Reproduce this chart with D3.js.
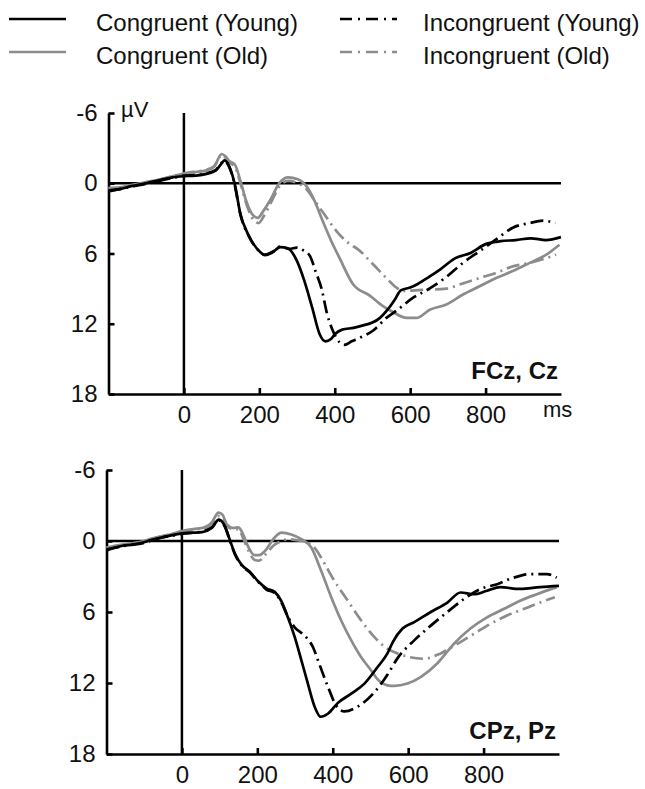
<!DOCTYPE html>
<html>
<head>
<meta charset="utf-8">
<script src="https://cdn.jsdelivr.net/npm/d3@7"></script>
<style>
  body { margin: 0; background: #fff; }
  svg { font-family: "Liberation Sans", Arial, sans-serif; }
</style>
</head>
<body>
<div id="chart"></div>
<script>
// Series: [ms, µV] pairs
var fczCongYoung = [[-200,0.6],[-170,0.5],[-140,0.25],[-100,0.0],[-60,-0.3],[-30,-0.5],[0,-0.6],[30,-0.65],[60,-0.8],[85,-1.1],[100,-1.7],[108,-1.95],[120,-1.45],[135,0.1],[150,2.65],[170,4.35],[200,5.8],[215,6.15],[235,5.9],[255,5.45],[275,5.55],[300,6.65],[320,8.4],[340,10.6],[360,12.9],[375,13.5],[390,13.3],[400,12.9],[420,12.5],[450,12.35],[480,12.1],[500,11.9],[520,11.5],[540,10.8],[560,9.9],[575,9.15],[600,8.9],[620,8.6],[650,8.0],[680,7.35],[720,6.4],[760,5.95],[800,5.2],[840,4.95],[880,4.85],[920,4.7],[960,4.85],[1000,4.6]];
var fczIncongYoung = [[-200,0.7],[-170,0.5],[-140,0.3],[-100,0.05],[-60,-0.25],[-30,-0.45],[0,-0.65],[30,-0.7],[60,-0.85],[85,-1.15],[100,-1.75],[108,-1.9],[120,-1.4],[135,0.2],[150,2.7],[170,4.4],[200,5.8],[215,6.1],[235,5.85],[255,5.4],[280,5.6],[300,5.5],[315,5.7],[334,6.2],[350,7.6],[365,9.0],[380,11.2],[395,12.6],[413,13.6],[426,13.8],[445,13.5],[466,13.2],[501,12.6],[537,11.5],[563,10.9],[607,9.8],[651,9.0],[696,8.0],[740,6.8],[784,5.8],[828,4.8],[872,3.8],[917,3.4],[952,3.2],[985,3.4]];
var fczCongOld = [[-200,0.4],[-170,0.35],[-140,0.15],[-100,-0.1],[-60,-0.35],[-30,-0.6],[0,-0.8],[30,-0.95],[60,-1.1],[80,-1.4],[100,-2.5],[110,-2.3],[120,-1.9],[135,-1.6],[150,-0.2],[165,1.5],[180,2.6],[196,2.95],[210,2.4],[228,1.5],[254,-0.05],[276,-0.5],[302,-0.35],[325,0.25],[347,1.55],[369,3.3],[391,4.95],[413,6.4],[448,8.6],[493,9.6],[528,10.5],[554,11.0],[591,11.5],[617,11.5],[652,10.8],[696,10.35],[740,9.5],[784,8.8],[828,8.1],[872,7.5],[917,6.8],[961,6.1],[996,5.25]];
var fczIncongOld = [[-200,0.5],[-170,0.4],[-140,0.2],[-100,-0.05],[-60,-0.35],[-30,-0.6],[0,-0.85],[30,-1.0],[60,-1.15],[80,-1.45],[100,-2.4],[110,-2.2],[120,-1.8],[135,-1.4],[150,0.0],[165,1.7],[180,2.9],[198,3.4],[212,2.8],[230,1.7],[255,0.2],[276,-0.2],[302,0.0],[325,0.5],[347,1.5],[369,2.5],[405,4.1],[440,5.2],[460,5.6],[501,6.9],[537,8.1],[563,8.9],[580,9.2],[631,9.1],[696,9.0],[731,8.65],[784,8.1],[828,7.65],[872,7.1],[917,6.8],[961,6.4],[987,6.1]];

var cpzCongYoung = [[-200,0.8],[-158,0.4],[-130,0.3],[-106,0.15],[-80,-0.1],[-53,-0.3],[-25,-0.5],[0,-0.65],[30,-0.7],[53,-0.75],[79,-1.1],[98,-1.8],[114,-1.25],[128,0.0],[141,1.1],[158,2.0],[180,2.6],[202,3.4],[224,4.0],[246,4.3],[264,5.1],[281,6.45],[299,8.1],[317,10.1],[334,12.05],[352,14.0],[368,14.85],[387,14.6],[413,13.7],[449,12.9],[484,12.05],[519,10.65],[545,9.5],[560,8.5],[585,7.4],[616,6.85],[660,6.0],[704,5.2],[739,4.35],[774,4.5],[809,4.2],[844,3.9],[897,4.05],[950,3.9],[1000,3.8]];
var cpzIncongYoung = [[-200,0.7],[-158,0.45],[-130,0.3],[-106,0.2],[-80,-0.05],[-53,-0.3],[-25,-0.45],[0,-0.6],[30,-0.7],[53,-0.8],[79,-1.15],[98,-1.75],[114,-1.2],[128,0.05],[141,1.15],[158,2.05],[180,2.65],[202,3.45],[224,4.1],[246,4.4],[264,5.2],[281,6.4],[299,7.3],[318,7.8],[334,8.3],[348,9.0],[361,10.1],[387,12.3],[409,13.9],[431,14.4],[466,14.0],[510,12.8],[545,11.3],[572,9.9],[616,8.4],[660,7.15],[704,6.0],[748,4.9],[792,4.05],[836,3.65],[880,3.1],[923,2.8],[968,2.8],[994,3.1]];
var cpzCongOld = [[-200,0.55],[-158,0.3],[-130,0.2],[-106,0.05],[-80,-0.2],[-53,-0.4],[-25,-0.6],[0,-0.85],[30,-1.0],[60,-1.15],[80,-1.6],[97,-2.4],[108,-2.2],[119,-1.4],[136,-1.1],[150,-1.15],[163,-0.5],[176,0.5],[193,1.2],[205,1.2],[220,0.85],[246,-0.3],[264,-0.7],[290,-0.55],[317,-0.15],[343,0.55],[369,2.5],[396,4.75],[422,6.7],[449,8.4],[475,9.8],[501,10.9],[519,11.7],[545,12.2],[563,12.25],[598,12.05],[633,11.5],[677,10.35],[721,8.7],[765,7.4],[809,6.45],[853,5.75],[897,5.05],[941,4.5],[994,3.9]];
var cpzIncongOld = [[-200,0.6],[-158,0.35],[-130,0.2],[-106,0.1],[-80,-0.15],[-53,-0.4],[-25,-0.6],[0,-0.8],[30,-0.95],[60,-1.1],[80,-1.5],[97,-2.1],[108,-2.0],[119,-1.3],[136,-1.0],[150,-1.0],[163,-0.2],[176,0.8],[193,1.6],[205,1.65],[225,1.0],[246,0.3],[265,0.0],[281,-0.15],[310,-0.05],[334,0.15],[355,0.7],[369,1.4],[404,3.35],[440,5.05],[475,6.7],[510,8.1],[545,9.1],[580,9.6],[642,9.95],[686,9.5],[730,8.7],[774,7.85],[818,7.0],[862,6.3],[906,5.75],[950,5.2],[989,4.75]];

var legendLabels = ["Congruent (Young)", "Congruent (Old)", "Incongruent (Young)", "Incongruent (Old)"];
var yTicks = [-6, 0, 6, 12, 18];
var xTicks = [0, 200, 400, 600, 800];

var width = 645, height = 789;
var grey = "#8c8c8c";
var dashDot = "13,5,2,5";

// line styles, same order as legendLabels
var styles = [
  { color: "#000", dash: null },
  { color: grey, dash: null },
  { color: "#000", dash: dashDot },
  { color: grey, dash: dashDot }
];

var svg = d3.select("#chart")
  .append("svg")
  .attr("width", width)
  .attr("height", height);

//===============================================
// Legend, two columns: sample x, text x, row y
var legendPos = [[9, 96, 19], [9, 96, 52], [340, 423, 19], [340, 423, 52]];
legendLabels.forEach(function(label, i) {
  var p = legendPos[i];
  svg.append("line")
    .attr("x1", p[0]).attr("x2", p[0] + 57)
    .attr("y1", p[2]).attr("y2", p[2])
    .attr("stroke", styles[i].color)
    .attr("stroke-width", 2.4)
    .attr("stroke-dasharray", styles[i].dash ? "12,6,2,6" : null);
  svg.append("text")
    .attr("x", p[1]).attr("y", p[2] + 12)
    .attr("font-size", 24)
    .attr("fill", "#111")
    .text(label);
});

//===============================================
// One panel: axes, zero lines, four waveforms
function drawPanel(opts) {
  var x = d3.scaleLinear().domain([-200, 1000]).range([opts.left, opts.right]);
  var y = d3.scaleLinear().domain([-6, 18]).range([opts.top, opts.bottom]);
  var g = svg.append("g");

  // y axis, ticks pointing inward
  g.append("g")
    .attr("transform", "translate(" + opts.left + ",0)")
    .call(d3.axisLeft(y).tickValues(yTicks).tickSize(-6).tickSizeOuter(0)
      .tickPadding(11).tickFormat(function(d) { return String(d); }));

  // x axis
  g.append("g")
    .attr("transform", "translate(0," + opts.bottom + ")")
    .call(d3.axisBottom(x).tickValues(xTicks).tickSize(-6).tickSizeOuter(0)
      .tickPadding(12));

  g.selectAll(".domain, .tick line")
    .attr("stroke", "#000")
    .attr("stroke-width", 2.6);
  g.selectAll(".tick text")
    .attr("font-size", 24)
    .attr("fill", "#111")
    .attr("font-family", "Liberation Sans, Arial, sans-serif");

  // zero lines
  g.append("line")
    .attr("x1", x(-200)).attr("x2", x(1000))
    .attr("y1", y(0)).attr("y2", y(0))
    .attr("stroke", "#000").attr("stroke-width", 2.5);
  g.append("line")
    .attr("x1", x(0)).attr("x2", x(0))
    .attr("y1", y(-6)).attr("y2", y(18))
    .attr("stroke", "#000").attr("stroke-width", 2.5);

  var line = d3.line()
    .x(function(d) { return x(d[0]); })
    .y(function(d) { return y(d[1]); })
    .curve(d3.curveMonotoneX);

  // draw grey first so black sits on top
  [1, 3, 0, 2].forEach(function(i) {
    g.append("path")
      .datum(opts.series[i])
      .attr("d", line)
      .attr("fill", "none")
      .attr("stroke", styles[i].color)
      .attr("stroke-width", 2.7)
      .attr("stroke-linejoin", "round")
      .attr("stroke-dasharray", styles[i].dash);
  });

  g.append("text")
    .attr("x", opts.right - 3).attr("y", opts.bottom - 15)
    .attr("text-anchor", "end")
    .attr("font-size", 24)
    .attr("font-weight", "bold")
    .attr("fill", "#111")
    .text(opts.name);

  return g;
}

var fczPanel = drawPanel({
  left: 108.5, right: 561, top: 113, bottom: 394,
  name: "FCz, Cz",
  series: [fczCongYoung, fczCongOld, fczIncongYoung, fczIncongOld]
});

drawPanel({
  left: 106.5, right: 559, top: 470, bottom: 754,
  name: "CPz, Pz",
  series: [cpzCongYoung, cpzCongOld, cpzIncongYoung, cpzIncongOld]
});

// unit labels on the top panel
fczPanel.append("text")
  .attr("x", 121).attr("y", 117)
  .attr("font-size", 22)
  .attr("fill", "#111")
  .text("µV");
fczPanel.append("text")
  .attr("x", 543).attr("y", 417)
  .attr("font-size", 22)
  .attr("fill", "#111")
  .text("ms");
</script>
</body>
</html>
